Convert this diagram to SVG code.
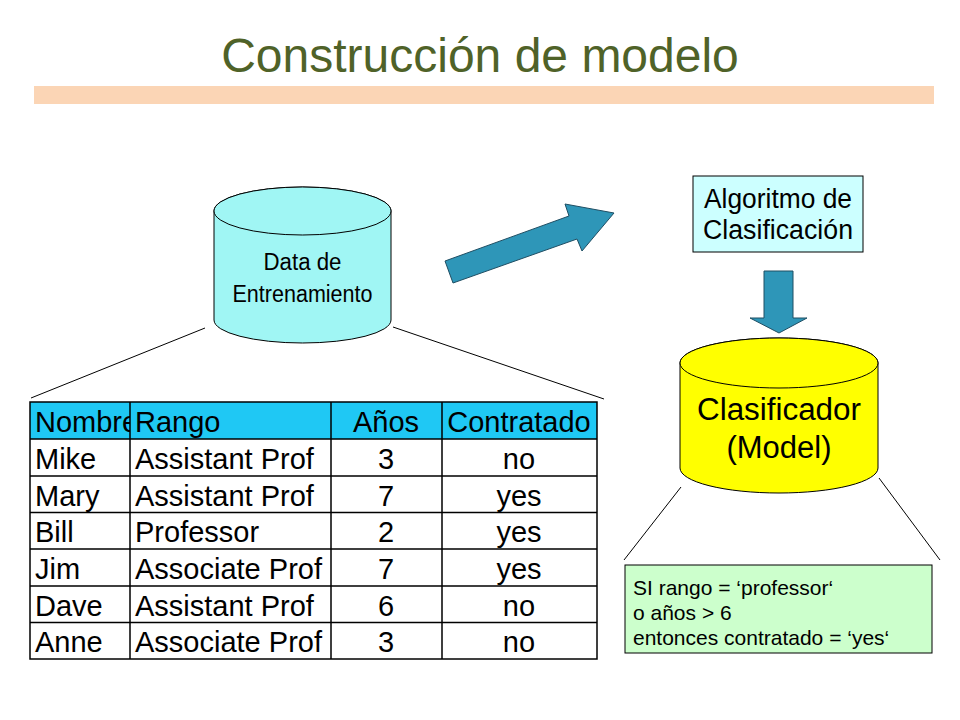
<svg xmlns="http://www.w3.org/2000/svg" width="960" height="720" viewBox="0 0 960 720">
<defs>
<style>
text{font-family:"Liberation Sans",Arial,sans-serif;fill:#000}
.cell{font-size:29px}
.mid{text-anchor:middle}
.grid{stroke:#000;stroke-width:1.5;fill:none}
.thin{stroke:#000;stroke-width:1;fill:none}
.cyl{stroke:#000;stroke-width:1}
.blk{fill:#2E96B8;stroke:#1F4E63;stroke-width:1}
</style>
<clipPath id="c1"><rect x="30" y="402" width="100" height="257"/></clipPath>
</defs>
<rect width="960" height="720" fill="#fff"/>
<g id="title">
<text x="480" y="72" class="mid" style="font-size:48px;fill:#4F6228">Construcción de modelo</text>
<rect x="34" y="86" width="900" height="18" fill="#FBD5B5"/>
</g>
<g id="connectors">
<line class="thin" x1="205" y1="328" x2="31" y2="398"/>
<line class="thin" x1="393" y1="327" x2="604" y2="399"/>
<line class="thin" x1="681" y1="487" x2="624" y2="560"/>
<line class="thin" x1="879" y1="478" x2="940" y2="560"/>
<polygon class="blk" points="453,283 445,261 569,216 565,204 614,213 582,251 577,239"/>
<polygon class="blk" points="764,271 793,271 793,318 807,318 779,333 750,318 764,318"/>
</g>
<g id="training-data">
<path class="cyl" fill="#A0F6F4" d="M214,211 V320 A88.5,23 0 0 0 391,320 V211 A88.5,24 0 0 0 214,211 Z"/>
<ellipse class="cyl" fill="#A0F6F4" cx="302.5" cy="211" rx="88.5" ry="24"/>
<text x="302.5" y="270" class="mid" style="font-size:23px" textLength="78" lengthAdjust="spacingAndGlyphs">Data de</text>
<text x="302.5" y="302" class="mid" style="font-size:23px" textLength="140" lengthAdjust="spacingAndGlyphs">Entrenamiento</text>
</g>
<g id="algorithm">
<rect x="693" y="176" width="170" height="76" fill="#CCFFFF" stroke="#000" stroke-width="1"/>
<text x="778" y="208" class="mid" style="font-size:27px" textLength="148" lengthAdjust="spacingAndGlyphs">Algoritmo de</text>
<text x="778" y="239" class="mid" style="font-size:27px" textLength="150" lengthAdjust="spacingAndGlyphs">Clasificación</text>
</g>
<g id="classifier">
<path class="cyl" fill="#FFFF00" d="M680,363 V468 A99,25 0 0 0 878,468 V363 A99,25 0 0 0 680,363 Z"/>
<ellipse class="cyl" fill="#FFFF00" cx="779" cy="363" rx="99" ry="25"/>
<text x="779" y="420" class="mid" style="font-size:31px" textLength="164" lengthAdjust="spacingAndGlyphs">Clasificador</text>
<text x="779" y="458" class="mid" style="font-size:31px">(Model)</text>
</g>
<g id="rule">
<rect x="625" y="565" width="307" height="88" fill="#CCFFCC" stroke="#000" stroke-width="1"/>
<text x="633" y="595" style="font-size:21px">SI rango = ‘professor‘</text>
<text x="633" y="620" style="font-size:21px">o años &gt; 6</text>
<text x="633" y="645" style="font-size:21px">entonces contratado = ‘yes‘</text>
</g>
<g id="table">
<rect x="30" y="402" width="567" height="37" fill="#1FC8F4"/>
<rect class="grid" x="30" y="402" width="567" height="257"/>
<path class="grid" d="M30,439H597M30,476H597M30,512.5H597M30,549H597M30,586H597M30,622.5H597M130,402V659M331,402V659M442,402V659"/>
<g clip-path="url(#c1)" class="cell">
<text x="35" y="432">Nombre</text>
<text x="35" y="469">Mike</text>
<text x="35" y="505.5">Mary</text>
<text x="35" y="542">Bill</text>
<text x="35" y="579">Jim</text>
<text x="35" y="615.5">Dave</text>
<text x="35" y="652">Anne</text>
</g>
<g class="cell">
<text x="135" y="432">Rango</text>
<text x="135" y="469">Assistant Prof</text>
<text x="135" y="505.5">Assistant Prof</text>
<text x="135" y="542">Professor</text>
<text x="135" y="579">Associate Prof</text>
<text x="135" y="615.5">Assistant Prof</text>
<text x="135" y="652">Associate Prof</text>
</g>
<g class="cell mid">
<text x="386" y="432">Años</text>
<text x="386" y="469">3</text>
<text x="386" y="505.5">7</text>
<text x="386" y="542">2</text>
<text x="386" y="579">7</text>
<text x="386" y="615.5">6</text>
<text x="386" y="652">3</text>
<text x="519" y="432">Contratado</text>
<text x="519" y="469">no</text>
<text x="519" y="505.5">yes</text>
<text x="519" y="542">yes</text>
<text x="519" y="579">yes</text>
<text x="519" y="615.5">no</text>
<text x="519" y="652">no</text>
</g>
</g>
</svg>
